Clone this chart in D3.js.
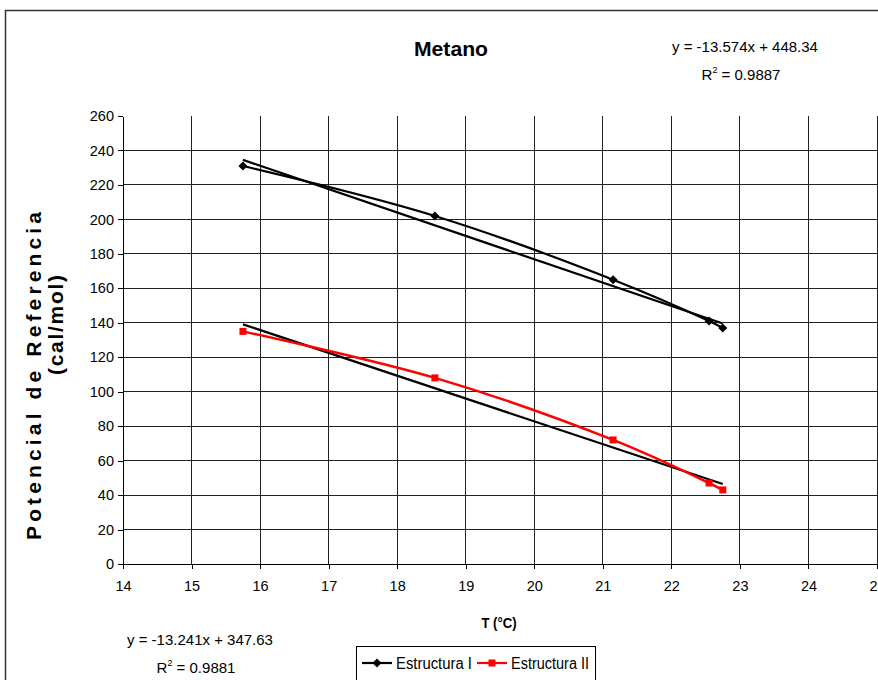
<!DOCTYPE html>
<html>
<head>
<meta charset="utf-8">
<style>
  body { margin: 0; background: #fff; }
  svg { display: block; font-family: "Liberation Sans", Arial, sans-serif; }
  .grid line { stroke: #222; stroke-width: 1; shape-rendering: crispEdges; }
  .axis path, .axis line { stroke: #000; shape-rendering: crispEdges; }
  .axis text { font-size: 14.5px; fill: #000; }
</style>
</head>
<body>
<svg width="878" height="680"></svg>
<script src="https://d3js.org/d3.v7.min.js"></script>
<script>
// temperaturas (°C) y potencial de referencia (cal/mol)
var temps = [15.75, 18.55, 21.15, 22.55, 22.75];
var estructuraI = [231, 202, 165, 141, 137];
var estructuraII = [135, 108, 72, 47, 43];

// lineas de tendencia (Excel)
var trendI = {m: -13.574, b: 448.34, r2: "0.9887"};
var trendII = {m: -13.241, b: 347.63, r2: "0.9881"};

var xTicks = [14, 15, 16, 17, 18, 19, 20, 21, 22, 23, 24, 25];
var yTicks = [0, 20, 40, 60, 80, 100, 120, 140, 160, 180, 200, 220, 240, 260];

var svg = d3.select("svg");

// marco exterior
svg.append("rect")
    .attr("x", 5.5).attr("y", 10.5)
    .attr("width", 900).attr("height", 700)
    .attr("fill", "none")
    .attr("stroke", "#333")
    .attr("stroke-width", 1.5);

var x = d3.scaleLinear().domain([14, 25]).range([123, 877]);
var y = d3.scaleLinear().domain([0, 260]).range([564, 116]);

// rejilla
var grid = svg.append("g").attr("class", "grid");
grid.selectAll(".h")
    .data(yTicks.filter(function(d) { return d > 0 && d < 260; }))
    .enter().append("line")
    .attr("x1", x(14)).attr("x2", 878)
    .attr("y1", function(d) { return y(d); })
    .attr("y2", function(d) { return y(d); });
grid.selectAll(".v")
    .data(xTicks.filter(function(d) { return d > 14; }))
    .enter().append("line")
    .attr("x1", function(d) { return x(d); })
    .attr("x2", function(d) { return x(d); })
    .attr("y1", y(260)).attr("y2", y(0));

// ejes
svg.append("g")
    .attr("class", "axis")
    .attr("transform", "translate(0," + y(0) + ")")
    .call(d3.axisBottom(x).tickValues(xTicks).tickSize(5).tickSizeOuter(0).tickPadding(12).tickFormat(d3.format("d")));

svg.append("g")
    .attr("class", "axis")
    .attr("transform", "translate(" + x(14) + ",0)")
    .call(d3.axisLeft(y).tickValues(yTicks).tickSize(5).tickSizeOuter(0).tickPadding(4));

// tendencias
function trendLine(t) {
  var x0 = d3.min(temps), x1 = d3.max(temps);
  return [[x0, t.m * x0 + t.b], [x1, t.m * x1 + t.b]];
}
var straight = d3.line()
    .x(function(d) { return x(d[0]); })
    .y(function(d) { return y(d[1]); });

[trendI, trendII].forEach(function(t) {
  svg.append("path")
      .attr("d", straight(trendLine(t)))
      .attr("fill", "none")
      .attr("stroke", "#000")
      .attr("stroke-width", 2.2);
});

// series suavizadas
var smooth = d3.line()
    .x(function(d) { return x(d[0]); })
    .y(function(d) { return y(d[1]); })
    .curve(d3.curveCatmullRom.alpha(0.5));

var seriesI = temps.map(function(t, i) { return [t, estructuraI[i]]; });
var seriesII = temps.map(function(t, i) { return [t, estructuraII[i]]; });

svg.append("path")
    .attr("d", smooth(seriesI))
    .attr("fill", "none")
    .attr("stroke", "#000")
    .attr("stroke-width", 2.2);

svg.append("path")
    .attr("d", smooth(seriesII))
    .attr("fill", "none")
    .attr("stroke", "#f00")
    .attr("stroke-width", 2.5);

svg.selectAll(".dI")
    .data(seriesI)
    .enter().append("path")
    .attr("transform", function(d) { return "translate(" + x(d[0]) + "," + y(d[1]) + ")"; })
    .attr("d", "M0,-4.5L4.5,0L0,4.5L-4.5,0Z")
    .attr("fill", "#000");

svg.selectAll(".dII")
    .data(seriesII)
    .enter().append("rect")
    .attr("x", function(d) { return x(d[0]) - 3.5; })
    .attr("y", function(d) { return y(d[1]) - 3.5; })
    .attr("width", 7).attr("height", 7)
    .attr("fill", "#f00");

// textos
svg.append("text")
    .attr("x", 451).attr("y", 56)
    .attr("text-anchor", "middle")
    .attr("font-size", 21).attr("font-weight", "bold")
    .attr("textLength", 74).attr("lengthAdjust", "spacingAndGlyphs")
    .text("Metano");

function equation(t, cx, cy) {
  var sign = t.b < 0 ? " - " : " + ";
  svg.append("text")
      .attr("x", cx).attr("y", cy)
      .attr("text-anchor", "middle")
      .attr("font-size", 15)
      .text("y = " + t.m + "x" + sign + Math.abs(t.b));
  var r = svg.append("text")
      .attr("x", cx - 4).attr("y", cy + 28)
      .attr("text-anchor", "middle")
      .attr("font-size", 15);
  r.append("tspan").text("R");
  r.append("tspan").attr("font-size", 9).attr("dy", -7).text("2");
  r.append("tspan").attr("dy", 7).text(" = " + t.r2);
}
equation(trendI, 745, 52);
equation(trendII, 200, 645);

svg.append("text")
    .attr("x", 499).attr("y", 628)
    .attr("text-anchor", "middle")
    .attr("font-size", 15).attr("font-weight", "bold")
    .attr("textLength", 35).attr("lengthAdjust", "spacingAndGlyphs")
    .text("T (°C)");

svg.append("text")
    .attr("transform", "translate(41,376) rotate(-90)")
    .attr("text-anchor", "middle")
    .attr("font-size", 21).attr("font-weight", "bold")
    .attr("textLength", 328).attr("lengthAdjust", "spacing")
    .text("Potencial de Referencia");

svg.append("text")
    .attr("transform", "translate(63,325) rotate(-90)")
    .attr("text-anchor", "middle")
    .attr("font-size", 21).attr("font-weight", "bold")
    .attr("textLength", 100).attr("lengthAdjust", "spacing")
    .text("(cal/mol)");

// leyenda
var legend = svg.append("g");
legend.append("rect")
    .attr("x", 356.5).attr("y", 646.5)
    .attr("width", 239).attr("height", 40)
    .attr("fill", "#fff").attr("stroke", "#000");

var items = [
  {name: "Estructura I", color: "#000", mark: "diamond"},
  {name: "Estructura II", color: "#f00", mark: "square"}
];
var itemX = [362, 477];
var itemW = [76, 78];
var li = legend.selectAll(".item").data(items).enter().append("g")
    .attr("transform", function(d, i) { return "translate(" + itemX[i] + ",663)"; });
li.append("line")
    .attr("x1", 0).attr("x2", 30)
    .attr("stroke", function(d) { return d.color; })
    .attr("stroke-width", 2.2);
li.append("path")
    .attr("d", function(d) { return d.mark === "diamond" ? "M15,-4.5L19.5,0L15,4.5L10.5,0Z" : "M11.5,-3.5h7v7h-7Z"; })
    .attr("fill", function(d) { return d.color; });
li.append("text")
    .attr("x", 34).attr("y", 6)
    .attr("font-size", 16)
    .attr("textLength", function(d, i) { return itemW[i]; })
    .attr("lengthAdjust", "spacingAndGlyphs")
    .text(function(d) { return d.name; });
</script>
</body>
</html>
